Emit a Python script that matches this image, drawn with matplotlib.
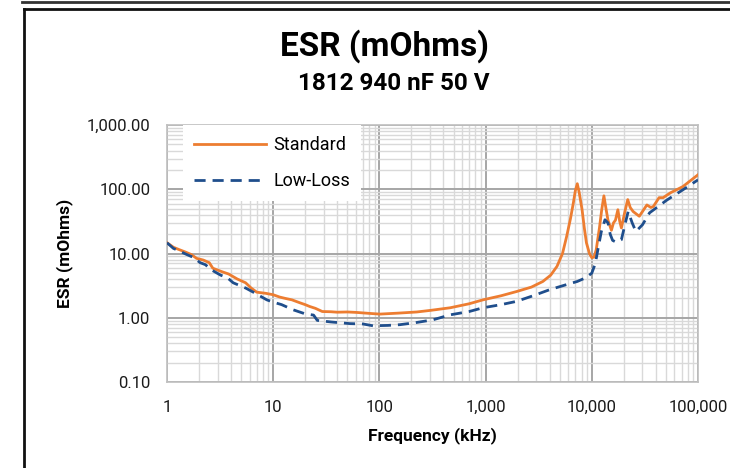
import matplotlib
matplotlib.use("Agg")
import matplotlib.pyplot as plt
from matplotlib.lines import Line2D
from matplotlib.ticker import FixedLocator, FuncFormatter, LogLocator, NullFormatter

plt.rcParams["font.family"] = ["Roboto", "DejaVu Sans"]

# Standard part (kHz, mOhms)
std_freq = [1, 1.15, 1.3, 1.5, 1.7, 1.9, 2.2, 2.5, 2.7, 3.3, 3.8, 4.6, 5.5, 6.2, 7, 8.5,
            10, 11.5, 13, 15, 18, 20, 22, 25, 27, 29, 35,
            40, 50, 61, 80, 101, 150, 225, 300, 464, 700, 945, 1400, 1960, 2700, 3460,
            4100, 4700, 5300, 5800, 6300, 6700, 7000, 7300, 7600,
            8100, 8500, 8900, 9500, 10000, 10500, 11000, 11800, 12400, 13000, 13600, 14200,
            15300, 16000, 16700, 17600, 18300, 19000, 20500, 21800, 23000, 24500, 28000,
            30000, 33000, 36000, 38000, 43000, 47000, 55000, 72000, 100000]
std_esr = [14.7, 12.5, 11.5, 10.5, 9.6, 8.4, 7.9, 7.2, 5.9, 5.2, 4.8, 4.0, 3.5, 2.9, 2.5, 2.4,
           2.28, 2.1, 2.0, 1.9, 1.7, 1.6, 1.5, 1.4, 1.32, 1.25, 1.24,
           1.22, 1.23, 1.21, 1.17, 1.14, 1.18, 1.23, 1.30, 1.43, 1.65, 1.9, 2.2, 2.56, 3.0, 3.67,
           4.6, 6.3, 10.0, 18.5, 35, 61, 95, 122, 90,
           48, 25, 14.7, 10.0, 8.6, 8.8, 11.4, 25, 48, 79, 50, 33,
           23, 30, 33, 48, 32, 25, 45, 69, 52, 45, 38,
           45, 57, 52, 54, 74, 74, 88, 110, 168]

# Low-Loss part
ll_freq = [1, 1.15, 1.3, 1.5, 1.8, 2.05, 2.3, 2.6, 3.2, 3.7, 4.2, 5.5, 6.5, 8.7, 10, 12, 15.4,
           20, 24, 26, 35, 53, 70, 87, 120,
           156, 220, 320, 464, 700, 945, 1400, 1960, 2800, 4000, 5500, 7300, 8800, 10000,
           10800, 11400, 12300, 13300, 14200, 14900, 15700, 17000, 19000, 20500, 22000,
           24000, 26000, 30000, 35000, 51000, 72000, 100000]
ll_esr = [14.7, 12.0, 11.0, 9.8, 8.6, 7.2, 6.7, 5.6, 4.6, 4.2, 3.5, 2.9, 2.5, 1.9, 1.75, 1.6, 1.33,
          1.15, 1.1, 0.91, 0.86, 0.81, 0.8, 0.75, 0.76,
          0.78, 0.84, 0.93, 1.11, 1.25, 1.43, 1.6, 1.8, 2.2, 2.73, 3.2, 3.67, 4.2, 4.95,
          7.0, 11.4, 22, 33.5, 30, 20, 16, 15, 16.4, 28, 45,
          30, 22, 28, 43, 68, 98, 140]

x_ticks = [1, 10, 100, 1000, 10000, 100000]
y_ticks = [0.1, 1, 10, 100, 1000]

fig = plt.figure(figsize=(7.3, 4.68), dpi=100)
ax = fig.add_axes([167 / 730, 1 - 382 / 468, 531 / 730, 257 / 468])

ax.plot(std_freq, std_esr, color="#ED7D31", lw=2, label="Standard", zorder=3)
ax.plot(ll_freq, ll_esr, color="#1F4E8C", lw=2, ls=(0, (4, 2.5)), label="Low-Loss", zorder=3)

ax.set_xscale("log")
ax.set_yscale("log")
ax.set_xlim(1, 100000)
ax.set_ylim(0.1, 1000)

ax.xaxis.set_major_locator(FixedLocator(x_ticks))
ax.yaxis.set_major_locator(FixedLocator(y_ticks))
ax.xaxis.set_minor_locator(LogLocator(base=10, subs=range(2, 10), numticks=20))
ax.yaxis.set_minor_locator(LogLocator(base=10, subs=range(2, 10), numticks=20))
ax.xaxis.set_minor_formatter(NullFormatter())
ax.yaxis.set_minor_formatter(NullFormatter())
ax.xaxis.set_major_formatter(FuncFormatter(lambda v, _: f"{v:,.0f}"))
ax.yaxis.set_major_formatter(FuncFormatter(lambda v, _: f"{v:,.2f}"))

ax.grid(True, which="major", color="#A6A6A6", lw=1.4)
ax.grid(True, which="minor", color="#D9D9D9", lw=1.0)
ax.set_axisbelow(True)
ax.tick_params(which="both", length=0, labelsize=12, colors="#1a1a1a")
ax.tick_params(axis="x", pad=13)
ax.tick_params(axis="y", pad=12)
for sp in ax.spines.values():
    sp.set_color("#BFBFBF")
    sp.set_linewidth(1.2)

ax.set_xlabel("Frequency (kHz)", fontsize=12.5, fontweight="bold", labelpad=9)
ax.set_ylabel("ESR (mOhms)", fontsize=12.5, fontweight="bold", labelpad=10)

leg = ax.legend(loc="upper left", bbox_to_anchor=(0.03, 1.0), frameon=True, fancybox=False,
                edgecolor="white", facecolor="white", framealpha=1, fontsize=13,
                handlelength=4.0, handletextpad=0.4, labelspacing=1.0, borderpad=0.6,
                borderaxespad=0)
leg.get_frame().set_linewidth(0)

fig.text(0.527, 0.902, "ESR (mOhms)", ha="center", va="center", fontsize=24, fontweight="bold")
fig.text(0.54, 0.822, "1812 940 nF 50 V", ha="center", va="center", fontsize=17.5, fontweight="bold")

# outer frame
fig.add_artist(Line2D([22 / 730, 1], [1 - 1.5 / 468] * 2, color="#333333", lw=2))
fig.add_artist(Line2D([24 / 730, 1], [1 - 9 / 468] * 2, color="#111111", lw=2))
fig.add_artist(Line2D([24 / 730] * 2, [0, 1 - 9 / 468], color="#111111", lw=2))

fig.savefig("out.png", dpi=100)
